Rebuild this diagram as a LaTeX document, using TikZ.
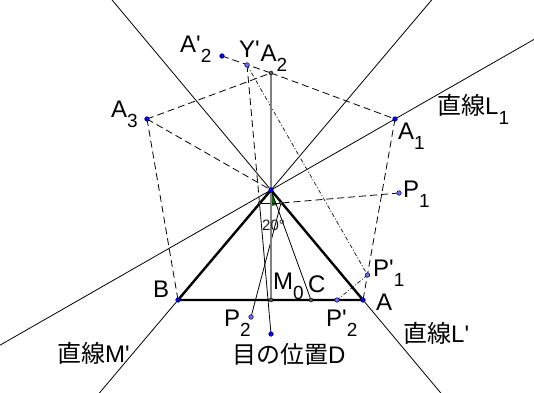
\documentclass[tikz,border=0pt]{standalone}
\usepackage{fontspec}
\setmainfont{Liberation Sans}[Ligatures=TeXOff]
\newfontfamily\cjk{Noto Sans CJK JP}
\usetikzlibrary{calc}
\definecolor{dkgreen}{RGB}{0,105,0}
\definecolor{ptblue}{RGB}{0,0,255}
\definecolor{ptlight}{RGB}{110,110,255}
\definecolor{ptgray}{RGB}{90,90,90}
\tikzset{
  thinline/.style={line width=0.8pt, black},
  dashline/.style={line width=0.8pt, black, dash pattern=on 7pt off 4pt},
  dashdotline/.style={line width=0.8pt, black!85, dash pattern=on 4pt off 2pt on 1pt off 2pt},
  triline/.style={line width=2.4pt, black, line join=round, line cap=round},
  grayline/.style={line width=1.6pt, black!50},
  bluept/.style={circle, fill=ptblue, draw=blue!35!black, line width=0.5pt, inner sep=0pt, minimum size=4.6pt},
  lightpt/.style={circle, fill=ptlight, draw=blue!30!black, line width=0.5pt, inner sep=0pt, minimum size=4.6pt},
  graypt/.style={circle, fill=ptgray, draw=black, line width=0.4pt, inner sep=0pt, minimum size=4pt},
  lab/.style={anchor=base west, inner sep=0pt, font=\fontsize{24}{28}\selectfont},
  anglab/.style={anchor=base west, inner sep=0pt, font=\fontsize{15}{17}\selectfont, text=black!90},
}
\newcommand\sbs[1]{\raisebox{-10pt}{\fontsize{19}{19}\selectfont #1}}
\begin{document}
\begin{tikzpicture}[x=1pt,y=-1pt]
\useasboundingbox (0,0) rectangle (534,392);
% geometry
\coordinate (O) at (271,190);
\coordinate (A) at (363,300);
\coordinate (B) at (178,300);
\coordinate (A1) at (395,119);
\coordinate (A2) at (271,73);
\coordinate (A3) at (147,119);
\coordinate (A2p) at (222,56);
\coordinate (Yp) at (247,65);
\coordinate (P1) at (399,193);
\coordinate (P1p) at (367.5,275);
\coordinate (P2p) at (337,300);
\coordinate (P2) at (251,317);
\coordinate (D) at (271,334);
\coordinate (M0) at (271,300);
\coordinate (C) at (311,300);
\coordinate (L) at (259.5,203);
\coordinate (R) at (281,203);
% long lines
\begin{scope}
\clip (0,0) rectangle (534,392);
\draw[thinline] ($(O)!-2!(A)$) -- ($(O)!2!(A)$);
\draw[thinline] ($(O)!-2!(B)$) -- ($(O)!2!(B)$);
\draw[thinline] ($(O)!-2.4!(A1)$) -- ($(O)!2.4!(A1)$);
\end{scope}
% green angle mark
\fill[dkgreen] (O) -- ++(90:16) arc[start angle=90, end angle=70, radius=16] -- cycle;
% dashed construction
\draw[dashline] (A3) -- (O);
\draw[dashline] (A3) -- (A2);
\draw[dashline] (A2p) -- (A2);
\draw[dashline] (A2) -- (A1);
\draw[dashline] (A1) -- (A);
\draw[dashline] (A3) -- (B);
\draw[dashline] (P1) -- (R);
\draw[dashline] (Yp) -- (L);
\draw[dashdotline] (Yp) -- (P1p);
\draw[dashdotline] (P1p) -- (P2p);
% thin solid
\draw[thinline] (L) -- (R);
\draw[thinline] (L) -- (D);
\draw[thinline] (R) -- (P2);
\draw[thinline] (O) -- (C);
% gray axis
\draw[grayline] (A2) -- (M0);
% triangle
\draw[triline] (O) -- (A) -- (B) -- cycle;
% points
\node[bluept] (nO) at (O) {};
\node[bluept] (nA) at (A) {};
\node[bluept] (nB) at (B) {};
\node[bluept] (nA1) at (A1) {};
\node[bluept] (nA3) at (A3) {};
\node[bluept] (nA2p) at (A2p) {};
\node[bluept] (nD) at (D) {};
\node[graypt] (nA2) at (A2) {};
\node[graypt] (nM0) at (M0) {};
\node[graypt] (nC) at (C) {};
\node[graypt, minimum size=3.4pt] (nL) at (L) {};
\node[graypt, minimum size=3.4pt] (nR) at (R) {};
\node[lightpt] (nYp) at (Yp) {};
\node[lightpt] (nP1) at (P1) {};
\node[lightpt] (nP1p) at (P1p) {};
\node[lightpt] (nP2p) at (P2p) {};
\node[lightpt] (nP2) at (P2) {};
% labels
\node[lab] (lA2p) at (180,52) {A'\sbs{2}};
\node[lab] (lYp) at (239,57) {Y'};
\node[lab] (lA2) at (260.5,61) {A\sbs{2}};
\node[lab] (lA3) at (111,117) {A\sbs{3}};
\node[lab] (lL1) at (437,114) {{\cjk 直線}L\sbs{1}};
\node[lab] (lA1) at (398,139) {A\sbs{1}};
\node[lab] (lP1) at (403,197) {P\sbs{1}};
\node[lab] (lP1p) at (373,276) {P'\sbs{1}};
\node[lab] (lA) at (376,310) {A};
\node[lab] (lM0) at (273,289) {M\sbs{0}};
\node[lab] (lC) at (308,292) {C};
\node[lab] (lP2) at (224,326) {P\sbs{2}};
\node[lab] (lP2p) at (326,326) {P'\sbs{2}};
\node[lab] (lB) at (153,297) {B};
\node[lab] (lM) at (57,362) {{\cjk 直線}M'};
\node[lab] (lLp) at (403,342) {{\cjk 直線}L'};
\node[lab] (lD) at (232,363) {{\cjk 目の位置}D};
\node[anglab] (ang) at (262,230) {20°};
\end{tikzpicture}
\end{document}
